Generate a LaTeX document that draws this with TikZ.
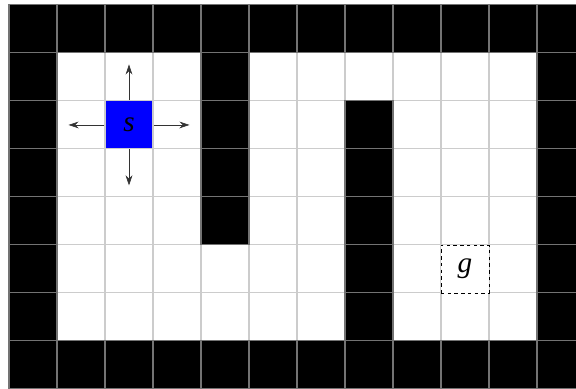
\documentclass[tikz,border=0pt]{standalone}
\usepackage{fontspec}
\setmainfont{Liberation Serif}
\usepackage{tikz}
\usetikzlibrary{arrows.meta, positioning}

\begin{document}
\begin{tikzpicture}[
  x=1cm, y=1cm,
  wall/.style={rectangle, fill=black, draw=black!55, line width=0.6pt},
  start/.style={rectangle, fill=blue, draw=black!20, line width=0.6pt,
                minimum size=1cm, inner sep=0pt, font=\LARGE\itshape},
  goal/.style={rectangle, fill=white, draw=black, dashed, thin,
               dash pattern=on 2pt off 2pt,
               minimum size=1cm, inner sep=0pt, font=\LARGE\itshape},
  arr/.style={-{Stealth[length=6pt, width=4pt, inset=2pt]}, thin, black!80}
]
\useasboundingbox (-0.1875,0) rectangle (11.8125,8.104);
%% Free cells and grid
\fill[white] (0,0) rectangle (12,8);
\draw[black!20, line width=0.6pt] (0,0) grid (12,8);
%% Outer walls
\foreach \x in {0,...,11}{
  \draw[wall] (\x,0) rectangle ++(1,1);
  \draw[wall] (\x,7) rectangle ++(1,1);}
\foreach \y in {1,...,6}{
  \draw[wall] (0,\y) rectangle ++(1,1);
  \draw[wall] (11,\y) rectangle ++(1,1);}
%% Inner walls
\foreach \y in {3,...,6}{
  \draw[wall] (4,\y) rectangle ++(1,1);}
\foreach \y in {1,...,5}{
  \draw[wall] (7,\y) rectangle ++(1,1);}
%% Start and goal
\node[start] (s) at (2.5,5.5) {s};
\node[goal]  (g) at (9.5,2.5) {g};
%% Actions
\coordinate[above=0.75cm of s.north] (up);
\coordinate[below=0.75cm of s.south] (dn);
\coordinate[left=0.75cm of s.west]   (lt);
\coordinate[right=0.75cm of s.east]  (rt);
\draw[arr] (s.north) -- (up);
\draw[arr] (s.south) -- (dn);
\draw[arr] (s.west)  -- (lt);
\draw[arr] (s.east)  -- (rt);
\end{tikzpicture}
\end{document}
